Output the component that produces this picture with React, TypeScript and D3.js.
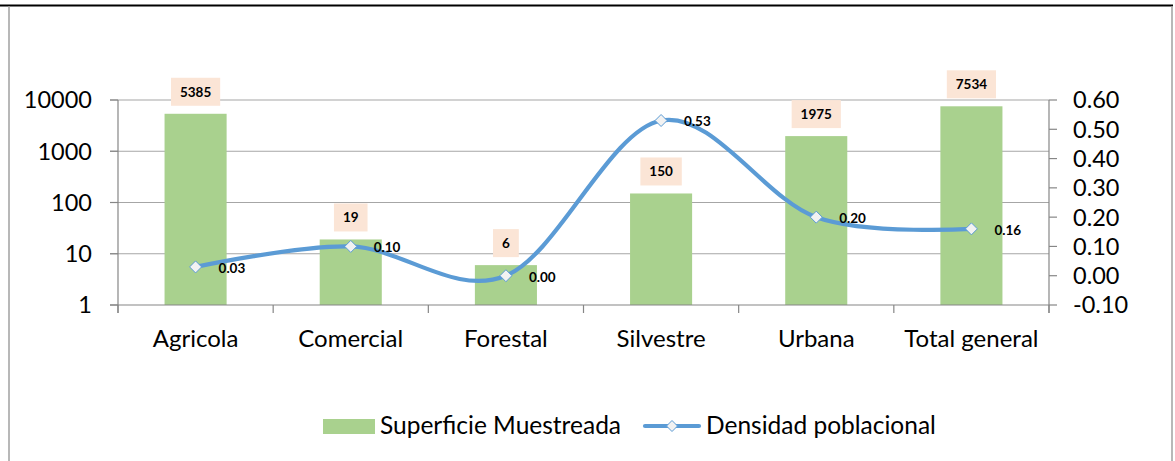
import React from "react";
import * as d3 from "d3";

const categories = ["Agricola", "Comercial", "Forestal", "Silvestre", "Urbana", "Total general"];
const superficie = [5385, 19, 6, 150, 1975, 7534];
const densidad = [0.03, 0.1, 0.0, 0.53, 0.2, 0.16];
const leftTicks = [1, 10, 100, 1000, 10000];
const rightTicks = [-0.1, 0, 0.1, 0.2, 0.3, 0.4, 0.5, 0.6];
const seriesNames = ["Superficie Muestreada", "Densidad poblacional"];

const W = 1175;
const H = 461;
const FONT = "Lato, 'Open Sans', sans-serif";
const GREEN = "#a9d18e";
const BLUE = "#5b9bd5";
const GRID = "#a6a6a6";

export default function App() {
  const left = 118;
  const right = 1049;
  const top = 100;
  const bottom = 305;

  const x = d3.scaleBand<string>().domain(categories).range([left, right]).paddingInner(0.6).paddingOuter(0.3);
  const step = x.step();
  const yL = d3.scaleLog().domain([1, 10000]).range([bottom, top]);
  const yR = d3.scaleLinear().domain([-0.1, 0.6]).range([bottom, top]);
  const cx = (c: string) => (x(c) as number) + x.bandwidth() / 2;

  const pts: [number, number][] = densidad.map((d, i) => [cx(categories[i]), yR(d)]);
  const line = d3.line().curve(d3.curveCardinal.tension(0))(pts) || "";

  const diamond = (px: number, py: number, r: number) =>
    `M${px},${py - r}L${px + r},${py}L${px},${py + r}L${px - r},${py}Z`;

  const labelW = (v: number) => String(v).length * 7.8 + 18;

  return (
    <svg width={W} height={H} style={{ position: "absolute", left: 0, top: 0, background: "#fff" }} fontFamily={FONT}>
      {/* frame */}
      <rect x={0} y={4.5} width={1173} height={2} fill="#000" />
      <line x1={9} x2={9} y1={6} y2={H} stroke="#a0a0a0" strokeWidth={1.5} />
      <line x1={1172} x2={1172} y1={6} y2={H} stroke="#a0a0a0" strokeWidth={1.5} />

      {/* gridlines */}
      {leftTicks.slice(1).map((t) => (
        <line key={t} x1={left - 8} x2={right} y1={yL(t)} y2={yL(t)} stroke={GRID} strokeWidth={1.2} />
      ))}

      {/* left axis */}
      <line x1={left} x2={left} y1={top} y2={bottom + 8} stroke="#868686" strokeWidth={1.2} />
      {leftTicks.map((t) => (
        <g key={t}>
          <line x1={left - 8} x2={left} y1={yL(t)} y2={yL(t)} stroke="#868686" strokeWidth={1.2} />
          <text x={92} y={yL(t)} dy="0.36em" textAnchor="end" fontSize={23.5} fill="#000">
            {t}
          </text>
        </g>
      ))}

      {/* right axis */}
      <line x1={right} x2={right} y1={top} y2={bottom + 8} stroke="#868686" strokeWidth={1.2} />
      {rightTicks.map((t) => (
        <g key={t}>
          <line x1={right} x2={right + 8} y1={yR(t)} y2={yR(t)} stroke="#868686" strokeWidth={1.2} />
          <text x={1073} y={yR(t)} dy="0.36em" textAnchor="start" fontSize={23.5} fill="#000">
            {t.toFixed(2)}
          </text>
        </g>
      ))}

      {/* bars */}
      {categories.map((c, i) => (
        <rect key={c} x={x(c)} y={yL(superficie[i])} width={x.bandwidth()} height={bottom - yL(superficie[i])} fill={GREEN} />
      ))}

      {/* x axis */}
      <line x1={left - 8} x2={right} y1={bottom} y2={bottom} stroke="#868686" strokeWidth={1.2} />
      {d3.range(categories.length + 1).map((i) => (
        <line key={i} x1={left + i * step} x2={left + i * step} y1={bottom} y2={bottom + 8} stroke="#868686" strokeWidth={1.2} />
      ))}
      {categories.map((c) => (
        <text key={c} x={cx(c)} y={347} textAnchor="middle" fontSize={24} fill="#000">
          {c}
        </text>
      ))}

      {/* bar labels */}
      {categories.map((c, i) => {
        const w = labelW(superficie[i]);
        const by = yL(superficie[i]) - 8;
        return (
          <g key={c}>
            <rect x={cx(c) - w / 2} y={by - 28} width={w} height={28} fill="#fbe5d6" />
            <text x={cx(c)} y={by - 14} dy="0.36em" textAnchor="middle" fontSize={13.5} fontWeight="bold" fill="#000">
              {superficie[i]}
            </text>
          </g>
        );
      })}

      {/* line series */}
      <path d={line} fill="none" stroke={BLUE} strokeWidth={4.2} strokeLinecap="round" />
      {pts.map(([px, py], i) => (
        <g key={i}>
          <path d={diamond(px, py, 6)} fill="#f2f2f2" stroke={BLUE} strokeWidth={1} />
          <text x={px + 23} y={py + 1} dy="0.36em" fontSize={13.5} fontWeight="bold" fill="#000">
            {densidad[i].toFixed(2)}
          </text>
        </g>
      ))}

      {/* legend */}
      <rect x={323} y={419} width={52} height={15} fill={GREEN} />
      <text x={380} y={434} fontSize={24.5} fill="#000">
        {seriesNames[0]}
      </text>
      <line x1={645} x2={699} y1={426} y2={426} stroke={BLUE} strokeWidth={4.2} strokeLinecap="round" />
      <path d={diamond(672, 426, 5.5)} fill="#f2f2f2" stroke={BLUE} strokeWidth={1} />
      <text x={706} y={434} fontSize={24.5} fill="#000">
        {seriesNames[1]}
      </text>
    </svg>
  );
}
